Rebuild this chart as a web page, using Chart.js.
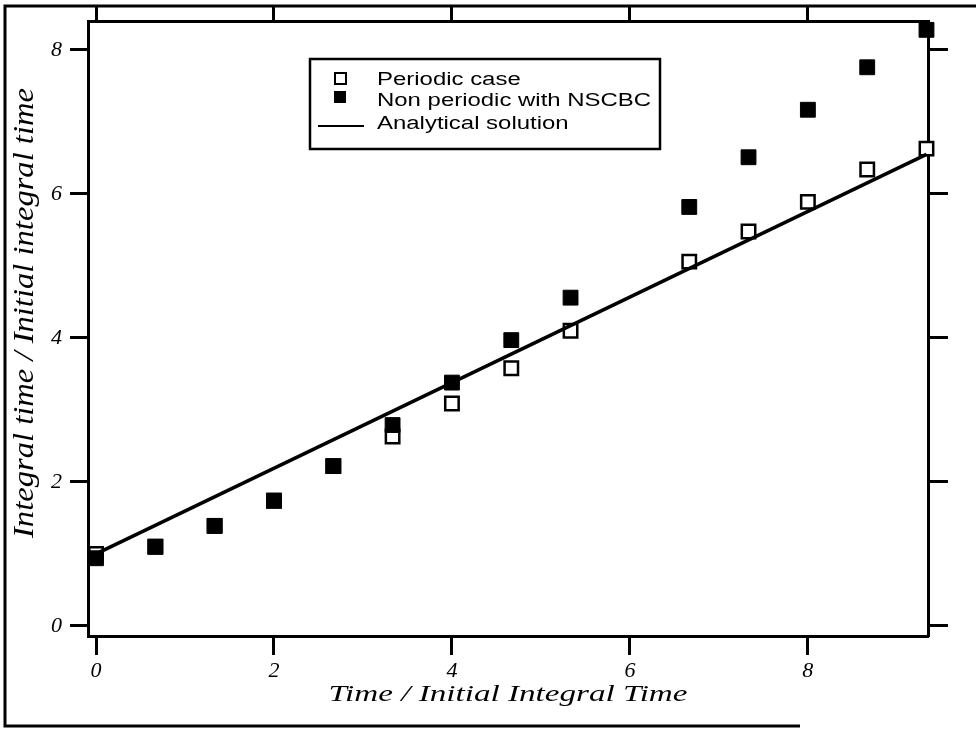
<!DOCTYPE html>
<html>
<head>
<meta charset="utf-8">
<script src="https://cdn.jsdelivr.net/npm/chart.js@4.4.0/dist/chart.umd.min.js"></script>
<style>
  html, body { margin: 0; padding: 0; background: #fff; }
</style>
</head>
<body>
<canvas id="timeChart" width="976" height="731"></canvas>
<script>
// values
var times = [0, 0.667, 1.333, 2, 2.667, 3.333, 4, 4.667, 5.333, 6.667, 7.333, 8, 8.667, 9.333]
var periodic = [1.0, 1.10, 1.39, 1.74, 2.22, 2.63, 3.09, 3.58, 4.10, 5.06, 5.48, 5.89, 6.34, 6.63]
var nscbc = [0.94, 1.10, 1.39, 1.74, 2.22, 2.79, 3.38, 3.97, 4.56, 5.82, 6.51, 7.17, 7.76, 8.28]
var analyticT = [0, 9.333]
var analyticY = [1.0, 6.55]
var xTicks = [0, 2, 4, 6, 8]
var yTicks = [0, 2, 4, 6, 8]
var seriesNames = ['Periodic case', 'Non periodic with NSCBC', 'Analytical solution']
var xTitle = 'Time / Initial Integral Time'
var yTitle = 'Integral time / Initial integral time'

function toPoints(xs, ys) {
    return xs.map(function (x, i) { return { x: x, y: ys[i] } })
}

var tickFont = { family: 'Liberation Serif', size: 22, style: 'italic' }

/*--------------------------------------------------- frame, titles, legend ----------------------------------------------------- */

var framePlugin = {
    id: 'frame',
    beforeDraw: function (chart) {
        var ctx = chart.ctx
        ctx.save()
        ctx.fillStyle = '#fff'
        ctx.fillRect(0, 0, chart.width, chart.height)
        ctx.strokeStyle = '#000'
        ctx.lineWidth = 3
        ctx.beginPath()
        ctx.moveTo(976, 6)
        ctx.lineTo(5, 6)
        ctx.lineTo(5, 726)
        ctx.lineTo(800, 726)
        ctx.stroke()
        ctx.restore()
    }
}

function stretchedText(ctx, text, x, y, font, width, angle) {
    ctx.save()
    ctx.font = font
    var w = ctx.measureText(text).width
    ctx.translate(x, y)
    ctx.rotate(angle)
    ctx.scale(width / w, 1)
    ctx.textAlign = 'center'
    ctx.textBaseline = 'alphabetic'
    ctx.fillStyle = '#000'
    ctx.fillText(text, 0, 0)
    ctx.restore()
}

var titlePlugin = {
    id: 'titles',
    afterDraw: function (chart) {
        var ctx = chart.ctx
        var area = chart.chartArea
        stretchedText(ctx, xTitle, (area.left + area.right) / 2, 701, 'italic 24px "Liberation Serif"', 359, 0)
        stretchedText(ctx, yTitle, 33, 313, 'italic 30px "Liberation Serif"', 450, -Math.PI / 2)
    }
}

var legendPlugin = {
    id: 'boxLegend',
    afterDraw: function (chart) {
        var ctx = chart.ctx
        ctx.save()
        ctx.strokeStyle = '#000'
        ctx.lineWidth = 2.5
        ctx.strokeRect(310, 59, 350, 90)

        // open square
        ctx.fillStyle = '#fff'
        ctx.lineWidth = 2
        ctx.fillRect(335, 73, 11, 11)
        ctx.strokeRect(335, 73, 11, 11)
        // filled square
        ctx.fillStyle = '#000'
        ctx.fillRect(334, 91, 12, 12)
        // line
        ctx.beginPath()
        ctx.moveTo(318, 126)
        ctx.lineTo(364, 126)
        ctx.lineWidth = 2
        ctx.stroke()

        var baselines = [85, 106, 129]
        ctx.font = '18px "Liberation Sans"'
        ctx.textBaseline = 'alphabetic'
        for (var i = 0; i < seriesNames.length; i++) {
            ctx.save()
            ctx.translate(377, baselines[i])
            ctx.scale(1.33, 1)
            ctx.fillText(seriesNames[i], 0, 0)
            ctx.restore()
        }
        ctx.restore()
    }
}

/*--------------------------------------------------- chart ----------------------------------------------------- */

var data = {
    datasets: [
        {
            label: seriesNames[0],
            data: toPoints(times, periodic),
            pointStyle: 'rect',
            pointRadius: 9.5,
            backgroundColor: '#fff',
            borderColor: '#000',
            borderWidth: 2.5,
            clip: false,
            order: 3,
        },
        {
            label: seriesNames[1],
            data: toPoints(times, nscbc),
            pointStyle: 'rect',
            pointRadius: 10.5,
            backgroundColor: '#000',
            borderColor: '#000',
            borderWidth: 1,
            clip: false,
            order: 1,
        },
        {
            label: seriesNames[2],
            type: 'line',
            data: toPoints(analyticT, analyticY),
            showLine: true,
            borderColor: '#000',
            borderWidth: 3.5,
            pointRadius: 0,
            fill: false,
            order: 2,
        },
    ],
}

function axisGrid(len) {
    return { drawOnChartArea: false, drawTicks: true, tickLength: len, tickWidth: 3, tickColor: '#000' }
}
var axisBorder = { display: true, color: '#000', width: 3 }

var config = {
    type: 'scatter',
    data: data,
    options: {
        responsive: false,
        animation: false,
        layout: { padding: 0 },
        plugins: { legend: { display: false }, tooltip: { enabled: false } },
        scales: {
            x: {
                type: 'linear', position: 'bottom', min: -0.09, max: 9.35,
                afterBuildTicks: function (s) { s.ticks = xTicks.map(function (v) { return { value: v } }) },
                afterFit: function (s) { s.height = 95 },
                grid: axisGrid(19),
                border: axisBorder,
                ticks: { color: '#000', font: tickFont, padding: 3, maxRotation: 0 },
            },
            x2: {
                type: 'linear', position: 'top', min: -0.09, max: 9.35,
                afterBuildTicks: function (s) { s.ticks = xTicks.map(function (v) { return { value: v } }) },
                afterFit: function (s) { s.height = 21 },
                grid: axisGrid(15),
                border: axisBorder,
                ticks: { display: false },
            },
            y: {
                type: 'linear', position: 'left', min: -0.14, max: 8.40,
                afterBuildTicks: function (s) { s.ticks = yTicks.map(function (v) { return { value: v } }) },
                afterFit: function (s) { s.width = 88 },
                grid: axisGrid(18),
                border: axisBorder,
                ticks: { color: '#000', font: tickFont, padding: 8 },
            },
            y2: {
                type: 'linear', position: 'right', min: -0.14, max: 8.40,
                afterBuildTicks: function (s) { s.ticks = yTicks.map(function (v) { return { value: v } }) },
                afterFit: function (s) { s.width = 48 },
                grid: axisGrid(20),
                border: axisBorder,
                ticks: { display: false },
            },
        },
    },
    plugins: [framePlugin, titlePlugin, legendPlugin],
}

var canvas = document.getElementById('timeChart')
var chart = new Chart(canvas, config)
</script>
</body>
</html>
